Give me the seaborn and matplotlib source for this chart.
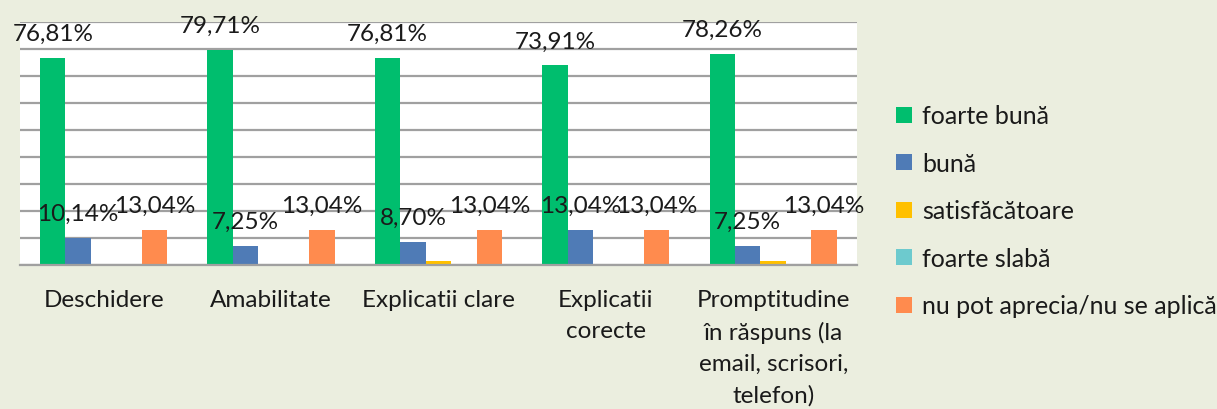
import seaborn as sns
import matplotlib.pyplot as plt
import pandas as pd
from matplotlib.patches import Patch

# categories and series
categories = ["Deschidere", "Amabilitate", "Explicatii clare", "Explicatii\ncorecte",
              "Promptitudine\nîn răspuns (la\nemail, scrisori,\ntelefon)"]
series = ["foarte bună", "bună", "satisfăcătoare", "foarte slabă", "nu pot aprecia/nu se aplică"]
foarte_buna = [76.81, 79.71, 76.81, 73.91, 78.26]
buna = [10.14, 7.25, 8.70, 13.04, 7.25]
satisfacatoare = [0.0, 0.0, 1.45, 0.0, 1.45]
foarte_slaba = [0.0, 0.0, 0.0, 0.0, 0.0]
nu_pot_aprecia = [13.04, 13.04, 13.04, 13.04, 13.04]
labelled = ["foarte bună", "bună", "nu pot aprecia/nu se aplică"]

colors = ["#00BE6E", "#4F7BB6", "#FFC000", "#6DCACE", "#FF8B4E"]
bg = "#EBEEDF"

values = [foarte_buna, buna, satisfacatoare, foarte_slaba, nu_pot_aprecia]
rows = []
for s, vals in zip(series, values):
    for c, v in zip(categories, vals):
        rows.append({"cat": c, "series": s, "val": v})
df = pd.DataFrame(rows)

sns.set_style("white")
plt.rcParams["font.family"] = ["Lato", "DejaVu Sans"]

fig = plt.figure(figsize=(12.17, 4.10), dpi=100, facecolor=bg)
ax = fig.add_axes([0.0164, 0.351, 0.6877, 0.593])
ax.set_facecolor("white")

sns.barplot(data=df, x="cat", y="val", hue="series", hue_order=series,
            order=categories, palette=colors, width=0.76, saturation=1,
            linewidth=0, ax=ax, legend=False)

for cont, s in zip(ax.containers, series):
    vals = [b.get_height() for b in cont]
    if s in labelled:
        labs = [f"{v:.2f}%".replace(".", ",") if v > 0 else "" for v in vals]
    else:
        labs = ["" for v in vals]
    ax.bar_label(cont, labels=labs, padding=10, fontsize=17.5, color="#1a1a1a")

ax.set_ylim(0, 90)
ax.set_xlim(-0.5, 4.5)
ax.set_yticks(range(0, 91, 10))
ax.set_yticklabels([])
ax.yaxis.grid(True, color="#A0A0A0", linewidth=1.6)
ax.set_axisbelow(True)
ax.set_xlabel("")
ax.set_ylabel("")
for side in ["left", "right", "top"]:
    ax.spines[side].set_visible(False)
ax.spines["bottom"].set_color("#A0A0A0")
ax.spines["bottom"].set_linewidth(1.6)
ax.set_xticks([i - 0.5 for i in range(6)], minor=True)
ax.tick_params(axis="x", which="minor", length=6, width=1.6, color="#A0A0A0", direction="out")
ax.tick_params(axis="x", which="major", length=0, pad=17, labelsize=17.5, labelcolor="#1a1a1a")
ax.tick_params(axis="y", length=0)
for t in ax.get_xticklabels():
    t.set_linespacing(1.6)

handles = [Patch(facecolor=c, edgecolor="none") for c in colors]
fig.legend(handles, series, loc="center left", bbox_to_anchor=(0.718, 0.483),
           frameon=False, fontsize=18, handlelength=0.62, handleheight=0.62,
           handletextpad=0.42, labelspacing=0.98, labelcolor="#1a1a1a")

fig.savefig("out.png", dpi=100, facecolor=bg)
